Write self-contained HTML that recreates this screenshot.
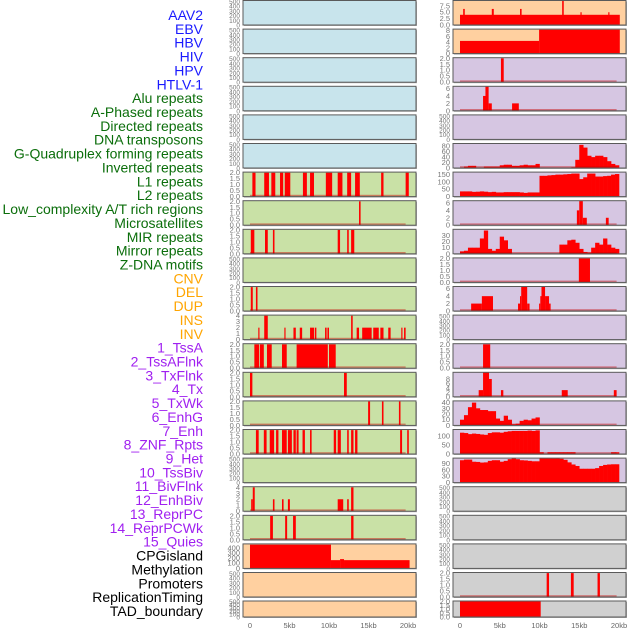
<!DOCTYPE html>
<html><head><meta charset="utf-8"><style>
html,body{margin:0;padding:0;background:#fff;}
svg{display:block;font-family:"Liberation Sans",sans-serif;}
</style></head><body>
<svg id="chart" width="630" height="630" viewBox="0 0 630 630" xmlns="http://www.w3.org/2000/svg"></svg>
<script>
// ---- track labels ----
const trackLabels = ["AAV2","EBV","HBV","HIV","HPV","HTLV-1","Alu repeats","A-Phased repeats","Directed repeats","DNA transposons","G-Quadruplex forming repeats","Inverted repeats","L1 repeats","L2 repeats","Low_complexity A/T rich regions","Microsatellites","MIR repeats","Mirror repeats","Z-DNA motifs","CNV","DEL","DUP","INS","INV","1_TssA","2_TssAFlnk","3_TxFlnk","4_Tx","5_TxWk","6_EnhG","7_Enh","8_ZNF_Rpts","9_Het","10_TssBiv","11_BivFlnk","12_EnhBiv","13_ReprPC","14_ReprPCWk","15_Quies","CPGisland","Methylation","Promoters","ReplicationTiming","TAD_boundary"];
const labelGroups = [6,13,5,15,5];
const groupColors = ["#1a1aff","#0b6e0b","#ffa500","#a020f0","#000000"];
const xTickValues = [0,5,10,15,20];
const xTickLabels = ["0","5kb","10kb","15kb","20kb"];

// ---- left column segments [startKb, endKb, value] ----
const L6 = [[0.3,0.7,2],[1.8,2.4,2],[2.7,3.2,2],[3.8,4.2,2],[4.4,5.1,2],[6.7,7.2,2],[7.6,8.1,2],[9.6,10.4,2],[11.1,11.7,2],[12.3,12.8,2],[13.3,13.9,2],[16.6,16.9,2],[19.7,20.1,2]];
const L7 = [[13.8,14.0,2]];
const L8 = [[0.1,0.55,2],[1.9,2.25,2],[2.9,3.1,2],[11.1,11.4,2],[12.3,12.5,2],[12.8,13.2,2]];
const L10 = [[0.1,0.35,2],[0.75,0.95,2]];
const L11 = [[1.05,1.2,2],[1.8,2.25,4],[4.35,4.5,2],[5.5,5.8,2],[6.3,6.6,2],[7.6,8.1,2],[8.2,8.4,2],[9.5,9.7,2],[9.8,10.0,2],[12.8,13.0,4],[13.5,13.8,2],[14.2,15.4,2],[15.6,16.3,2],[16.5,16.9,2],[17.5,17.8,2],[19.15,19.3,2],[19.5,19.7,2]];
const L12 = [[0.55,1.15,2],[1.25,1.75,2],[2.15,2.75,2],[4.05,4.65,2],[5.9,9.85,2],[10.0,10.85,2]];
const L13 = [[0.0,0.3,2],[11.9,12.25,2]];
const L14 = [[14.95,15.2,2],[16.7,16.9,2],[18.85,19.05,2]];
const L15 = [[0.75,1.1,2],[1.75,2.1,2],[2.5,3.05,2],[3.3,3.6,2],[4.05,4.65,2],[4.8,5.3,2],[5.5,5.8,2],[5.9,6.15,2],[6.65,6.95,2],[7.6,7.8,2],[10.6,10.9,2],[11.1,11.5,2],[12.3,12.5,2],[12.8,13.1,2],[13.3,13.6,2],[19.0,19.25,2],[19.9,20.1,2]];
const L17 = [[0.15,0.35,2],[0.35,0.6,4],[2.9,3.1,2],[4.05,4.25,2],[4.8,5.05,2],[11.1,11.8,2],[12.3,12.5,2],[12.8,13.1,4]];
const L18 = [[2.55,2.9,2],[4.45,4.7,2],[5.45,5.8,2],[12.8,13.1,2]];
const L19 = [[0,10.25,460],[10.25,11.4,160],[11.4,11.9,180],[11.9,20.2,160]];

// ---- right column segments ----
const R0 = [[0,20.1,4],[0.4,0.6,6.3],[4.0,4.25,6.3],[7.55,7.75,6.3],[12.85,13.05,9.5],[15.15,15.3,5],[18.65,18.8,5]];
const R1 = [[0,9.95,4.4],[9.95,20.1,8.3]];
const R2 = [[5.15,5.5,2]];
const R3 = [[2.9,3.25,4],[3.2,3.6,6.5],[3.6,4.0,2],[6.55,7.4,2]];
const R7 = [[14.7,15.0,4],[15.0,15.45,6.5],[15.45,15.95,2],[18.35,18.7,2]];
const R9 = [[14.95,16.35,2]];
const R10 = [[1.4,2.75,2],[2.75,4.15,4],[7.3,7.55,2],[7.55,7.7,4],[7.7,8.45,6.5],[8.45,8.75,2],[9.95,10.1,2],[10.1,10.25,4],[10.25,10.7,6.5],[10.7,11.2,4],[11.2,11.4,2]];
const R12 = [[2.9,3.8,2]];
const R13 = [[2.35,2.9,3],[2.9,3.65,11],[3.65,4.0,8],[5.15,5.45,3],[12.8,13.55,3],[19.35,19.7,3]];
const R20 = [[10.9,11.2,2],[13.95,14.3,2],[17.3,17.6,2]];
const R21 = [[0,10.15,2]];

// ---- binned profiles (0.5kb bins from 0kb) ----
const R5bins = [2,5,8,8,2,2,5,5,5,5,10,12,12,8,8,10,12,10,10,15,0,0,0,0,0,0,0,0,3,30,85,75,45,40,45,45,40,25,15,10];
const R6bins = [35,35,35,32,33,35,33,30,32,28,28,30,30,30,30,28,25,28,28,28,140,140,143,145,148,148,150,152,155,155,118,130,155,155,135,135,138,140,148,152];
const R8bins = [4,5,10,10,10,25,38,8,5,8,28,22,8,0,0,0,0,0,0,0,0,0,0,0,0,15,15,22,23,18,8,3,2,10,18,15,25,15,10,8];
const R14bins = [10,18,32,40,30,27,27,25,25,12,8,17,10,2,3,8,10,9,12,14,0,0,0,0,0,0,0,0,0,0,0,0,0,0,0,0,0,0,0,0];
const R15bins = [120,118,112,115,113,110,108,118,122,122,120,125,128,130,130,130,130,132,130,133,10,0,10,10,10,10,10,10,10,2,2,2,2,2,2,2,2,2,10,10];
const R16bins = [105,108,108,98,97,94,95,102,105,105,98,102,110,113,110,105,104,102,100,100,115,115,113,113,115,112,107,95,85,78,65,65,65,65,68,78,83,85,86,86];

// ---- y tick sets ----
const ticksK = [0,100,200,300,400,500];
const ticks2 = [0,0.5,1.0,1.5,2.0];
const ticks4 = [0,1,2,3,4];

const BLUE="#c8e4ec",GREEN="#c9e1a6",PEACH="#ffd0a0",PURP="#d6c6e2",GRAY="#d0d0d0";
const e = null;
// [bg, ymax, ticks, tickFmt(decimals), segments, bins, baseline]
const leftPanels = [
 [BLUE,520,ticksK,0,e,e,0],[BLUE,520,ticksK,0,e,e,0],[BLUE,520,ticksK,0,e,e,0],
 [BLUE,520,ticksK,0,e,e,0],[BLUE,520,ticksK,0,e,e,0],[BLUE,520,ticksK,0,e,e,0],
 [GREEN,2.05,ticks2,1,L6,e,1],[GREEN,2.05,ticks2,1,L7,e,1],[GREEN,2.05,ticks2,1,L8,e,1],
 [GREEN,520,ticksK,0,e,e,0],[GREEN,2.05,ticks2,1,L10,e,1],[GREEN,4.1,ticks4,0,L11,e,1],
 [GREEN,2.05,ticks2,1,L12,e,1],[GREEN,2.05,ticks2,1,L13,e,1],[GREEN,2.05,ticks2,1,L14,e,1],
 [GREEN,2.05,ticks2,1,L15,e,1],[GREEN,520,ticksK,0,e,e,0],[GREEN,4.1,ticks4,0,L17,e,1],
 [GREEN,2.05,ticks2,1,L18,e,1],[PEACH,475,[0,100,200,300,400],0,L19,e,0],
 [PEACH,520,ticksK,0,e,e,0],[PEACH,520,ticksK,0,e,e,0]
];
const rightPanels = [
 [PEACH,9.6,[0,2.5,5,7.5],1,R0,e,0],[PEACH,8.5,[0,2,4,6,8],0,R1,e,0],
 [PURP,2.05,ticks2,1,R2,e,1],[PURP,6.6,[0,2,4,6],0,R3,e,1],[PURP,520,ticksK,0,e,e,0],
 [PURP,90,[0,20,40,60,80],0,e,R5bins,1],[PURP,165,[0,50,100,150],0,e,R6bins,0],
 [PURP,6.6,[0,2,4,6],0,R7,e,1],[PURP,40,[0,10,20,30],0,e,R8bins,1],
 [PURP,2.05,ticks2,1,R9,e,1],[PURP,6.6,[0,2,4,6],0,R10,e,1],[PURP,520,ticksK,0,e,e,0],
 [PURP,2.05,ticks2,1,R12,e,1],[PURP,11,[0,2,4,6,8],0,R13,e,1],[PURP,43,[0,10,20,30,40],0,e,R14bins,1],
 [PURP,138,[0,50,100],0,e,R15bins,1],[PURP,115,[0,30,60,90],0,e,R16bins,0],
 [GRAY,520,ticksK,0,e,e,0],[GRAY,520,ticksK,0,e,e,0],[GRAY,520,ticksK,0,e,e,0],
 [GRAY,2.05,ticks2,1,R20,e,1],[GRAY,2.05,ticks2,1,R21,e,0]
];

const NS="http://www.w3.org/2000/svg";
const svg=document.getElementById('chart');
function mk(tag,attrs,parent){const el=document.createElementNS(NS,tag);for(const k in attrs)el.setAttribute(k,attrs[k]);(parent||svg).appendChild(el);return el;}

// labels
let gi=0,cnt=0;
trackLabels.forEach((t,i)=>{
  while(cnt>=labelGroups[gi]){cnt-=labelGroups[gi];gi++;}
  const tx=mk('text',{x:203,y:20+i*13.86,'text-anchor':'end','font-size':'14',fill:groupColors[gi]});
  tx.textContent=t;
  
  
  cnt++;
});

function rowGeom(i){ if(i===21) return [601,16]; return [0.5+i*28.6,24.5]; }

function drawColumn(panels,px0,pw,xz,xs,colName){
  const xScale=kb=>xz+kb*xs;
  panels.forEach((p,i)=>{
    const [bg,ymax,ticks,dec,segs,bins,base]=p;
    const [top,h]=rowGeom(i);
    const bottom=top+h;
    const yScale=v=>bottom-Math.min(v,ymax)/ymax*h;
    const g=mk('g',{});
    
    
    mk('rect',{x:px0+1,y:top+1,width:pw,height:h,fill:'#b0b0b0'},g);
    const bgR=mk('rect',{x:px0,y:top,width:pw,height:h,fill:bg},g);
    
    
    if(segs) segs.forEach(s=>{
      const r=mk('rect',{x:xScale(s[0]),y:yScale(s[2]),width:Math.max(1,xScale(s[1])-xScale(s[0])),height:bottom-yScale(s[2]),fill:'#ff0000'},g);
      
      
    });
    if(bins) bins.forEach((v,k)=>{
      if(v<=0) return;
      const r=mk('rect',{x:xScale(k*0.5),y:yScale(v),width:xScale((k+1)*0.5)-xScale(k*0.5)+0.3,height:bottom-yScale(v),fill:'#ff0000'},g);
      
      
    });
    if(base){
      const b=mk('rect',{x:xScale(0),y:bottom-1.8,width:xScale(19.7)-xScale(0),height:1.5,fill:'rgba(200,0,0,0.45)'},g);
      
      
    }
    mk('rect',{x:px0,y:top,width:pw,height:h,fill:'none',stroke:'#5a5a5a','stroke-width':1},g);
    ticks.forEach(t=>{
      const ty=mk('text',{x:px0-3,y:yScale(t)+2.5,'text-anchor':'end','font-size':ymax>=500?'6.5':'7.5',fill:'#777'},g);
      ty.textContent=t.toFixed(dec);
      
      
    });
  });
  xTickValues.forEach((v,k)=>{
    const t=mk('text',{x:xScale(v),y:628,'text-anchor':'middle','font-size':'7.5',fill:'#666'});
    t.textContent=xTickLabels[k];
    
    
  });
}
drawColumn(leftPanels,243,173,250,7.9,'left');
drawColumn(rightPanels,453,173,460,7.95,'right');
</script>
</body></html>
